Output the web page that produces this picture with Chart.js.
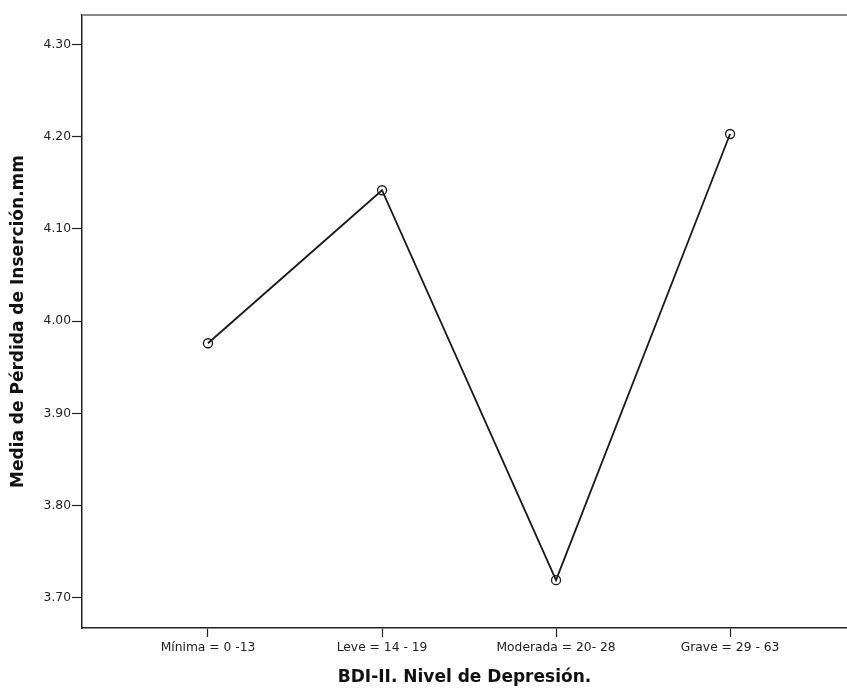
<!DOCTYPE html>
<html>
<head>
<meta charset="utf-8">
<script src="https://cdn.jsdelivr.net/npm/chart.js@4.4.0/dist/chart.umd.min.js"></script>
<style>
  html, body { margin: 0; padding: 0; background: #fff; overflow: hidden; }
  #wrap { width: 847px; height: 691px; }
</style>
</head>
<body>
<div id="wrap"><canvas id="grafica"></canvas></div>
<script>
const categorias = ['Mínima = 0 -13', 'Leve = 14 - 19', 'Moderada = 20- 28', 'Grave = 29 - 63'];
const medias = [3.976, 4.142, 3.719, 4.203];
const ticksY = [3.70, 3.80, 3.90, 4.00, 4.10, 4.20, 4.30];

const fuente = "'DejaVu Sans', sans-serif";

// borde superior gris del área de trazado
const bordeSuperior = {
  id: 'bordeSuperior',
  afterDraw(chart) {
    const { ctx, chartArea } = chart;
    ctx.save();
    ctx.strokeStyle = '#8a8a8a';
    ctx.lineWidth = 2;
    ctx.beginPath();
    ctx.moveTo(chartArea.left, chartArea.top);
    ctx.lineTo(chartArea.right, chartArea.top);
    ctx.stroke();
    ctx.restore();
  }
};

const ctx = document.getElementById('grafica').getContext('2d');
const chart = new Chart(ctx, {
  type: 'line',
  data: {
    datasets: [{
      data: medias.map((v, i) => ({ x: i, y: v })),
      borderColor: '#1a1a1a',
      borderWidth: 1.8,
      pointRadius: 4.5,
      pointBorderWidth: 1.3,
      pointBorderColor: '#1a1a1a',
      pointBackgroundColor: 'rgba(0,0,0,0)',
      tension: 0,
      clip: false
    }]
  },
  options: {
    responsive: true,
    maintainAspectRatio: false,
    animation: false,
    layout: { autoPadding: false, padding: { top: 15, left: 0, right: 0, bottom: 0 } },
    plugins: {
      legend: { display: false },
      tooltip: { enabled: false }
    },
    scales: {
      x: {
        type: 'linear',
        min: -0.724,
        max: 3.672,
        afterBuildTicks: scale => { scale.ticks = categorias.map((c, i) => ({ value: i })); },
        afterFit: scale => { scale.height = 63; },
        ticks: {
          autoSkip: false,
          maxRotation: 0,
          padding: 3,
          color: '#222',
          font: { family: fuente, size: 12.3 },
          callback: v => categorias[v]
        },
        grid: { drawOnChartArea: false, tickLength: 9, tickColor: '#222', tickWidth: 1.2 },
        border: { color: '#222', width: 1.5 },
        title: {
          display: true,
          text: 'BDI-II. Nivel de Depresión.',
          color: '#111',
          font: { family: fuente, size: 17, weight: 'bold' },
          padding: { top: 4, bottom: 3 }
        }
      },
      y: {
        min: 3.6671,
        max: 4.3321,
        afterBuildTicks: scale => { scale.ticks = ticksY.map(v => ({ value: v })); },
        afterFit: scale => { scale.width = 82; },
        ticks: {
          padding: 1,
          color: '#222',
          font: { family: fuente, size: 12.3 },
          callback: v => v.toFixed(2)
        },
        grid: { drawOnChartArea: false, tickLength: 10, tickColor: '#222', tickWidth: 1.2 },
        border: { color: '#222', width: 1.5 },
        title: {
          display: true,
          text: 'Media de Pérdida de Inserción.mm',
          color: '#111',
          font: { family: fuente, size: 17, weight: 'bold' },
          padding: { top: 8, bottom: 0 }
        }
      }
    }
  },
  plugins: [bordeSuperior]
});
</script>
</body>
</html>
